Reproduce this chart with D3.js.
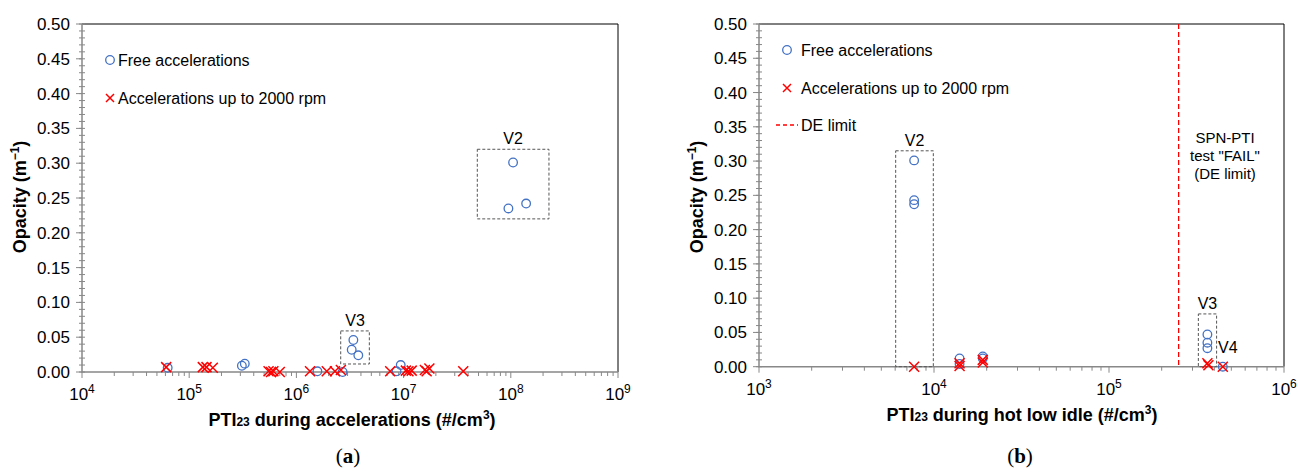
<!doctype html>
<html>
<head>
<meta charset="utf-8">
<title>Opacity vs PTI23</title>
<script src="https://d3js.org/d3.v7.min.js"></script>
<style>
  body { margin: 0; background: #fff; }
  svg text { font-family: "Liberation Sans", Arial, sans-serif; fill: #000; }
  .tick-label { font-size: 17px; }
  .legend-text { font-size: 16px; }
  .axis-title { font-size: 18px; font-weight: bold; }
  .note { font-size: 16px; }
  .caption { font-family: "Liberation Serif", "DejaVu Serif", serif; font-size: 21px; }
</style>
</head>
<body>
<div id="chart"></div>
<script>
// ---- data ----
// panel (a): PTI23 during accelerations
const accFreeX = [6.3e4, 3.1e5, 3.3e5, 1.57e6, 2.7e6, 3.4e6, 3.28e6, 3.78e6, 8.6e6, 9.4e6, 1.05e8, 9.5e7, 1.39e8];
const accFreeY = [0.006, 0.009, 0.012, 0.001, 0.000, 0.046, 0.032, 0.024, 0.001, 0.010, 0.301, 0.235, 0.242];
const accRpmX = [6.1e4, 1.34e5, 1.45e5, 1.66e5, 5.5e5, 5.8e5, 6.1e5, 7.0e5, 1.34e6, 1.92e6, 2.29e6, 2.6e6,
                 7.5e6, 1.05e7, 1.11e7, 1.19e7, 1.58e7, 1.64e7, 1.74e7, 3.6e7];
const accRpmY = [0.007, 0.007, 0.007, 0.006, 0.001, 0.000, 0.001, 0.000, 0.001, 0.001, 0.001, 0.003,
                 0.001, 0.002, 0.001, 0.002, 0.003, 0.001, 0.005, 0.001];
const accBoxes = [
  { label: "V2", x0: 4.87e7, x1: 2.27e8, y0: 0.22, y1: 0.32 },
  { label: "V3", x0: 2.59e6, x1: 4.79e6, y0: 0.0115, y1: 0.059 }
];

// panel (b): PTI23 during hot low idle
const idleFreeX = [7700, 7700, 7700, 1.4e4, 1.4e4, 1.9e4, 1.9e4, 3.65e5, 3.65e5, 3.65e5, 4.47e5];
const idleFreeY = [0.301, 0.243, 0.237, 0.012, 0.004, 0.015, 0.012, 0.047, 0.035, 0.027, 0.000];
const idleRpmX = [7700, 1.4e4, 1.4e4, 1.9e4, 1.9e4, 3.65e5, 3.7e5, 4.47e5];
const idleRpmY = [0.000, 0.005, 0.001, 0.010, 0.006, 0.005, 0.002, 0.000];
const idleBoxes = [
  { label: "V2", x0: 6040, x1: 9910, y0: 0, y1: 0.315 },
  { label: "V3", x0: 3.24e5, x1: 4.12e5, y0: 0, y1: 0.077 }
];
const deLimit = 2.5e5;

const yTicks = [0, 0.05, 0.10, 0.15, 0.20, 0.25, 0.30, 0.35, 0.40, 0.45, 0.50];
const legendNames = ["Free accelerations", "Accelerations up to 2000 rpm", "DE limit"];

const W = 1298, H = 475;
const blue = "#4472C4", red = "#FF0000";

const svg = d3.select("#chart").append("svg")
  .attr("width", W).attr("height", H);

function drawPanel(p) {
  const x = d3.scaleLog().domain(p.xDomain).range([p.left, p.right]);
  const y = d3.scaleLinear().domain([0, 0.5]).range([p.bottom, p.top]);
  const g = svg.append("g");

  // frame: top and right black
  g.append("path")
    .attr("d", `M${p.left},${p.top}H${p.right}V${p.bottom}`)
    .attr("fill", "none").attr("stroke", "#000").attr("stroke-width", 1);

  // minor y ticks every 0.01
  const yMinor = d3.range(0, 0.5001, 0.01);
  g.selectAll(".ym").data(yMinor).enter().append("line")
    .attr("x1", p.left - 3).attr("x2", p.left + 3)
    .attr("y1", d => y(d)).attr("y2", d => y(d))
    .attr("stroke", "#888").attr("stroke-width", 1);
  g.selectAll(".yM").data(yTicks).enter().append("line")
    .attr("x1", p.left - 6).attr("x2", p.left)
    .attr("y1", d => y(d)).attr("y2", d => y(d))
    .attr("stroke", "#888").attr("stroke-width", 1);
  g.selectAll(".yl").data(yTicks).enter().append("text")
    .attr("class", "tick-label")
    .attr("x", p.left - 12).attr("y", d => y(d) + 6)
    .attr("text-anchor", "end")
    .text(d => d3.format(".2f")(d));

  // x ticks
  const e0 = Math.round(Math.log10(p.xDomain[0])), e1 = Math.round(Math.log10(p.xDomain[1]));
  const majors = d3.range(e0, e1 + 1);
  const minors = [];
  majors.slice(0, -1).forEach(e => { for (let k = 2; k <= 9; k++) minors.push(k * Math.pow(10, e)); });
  g.selectAll(".xm").data(minors).enter().append("line")
    .attr("x1", d => x(d)).attr("x2", d => x(d))
    .attr("y1", p.bottom).attr("y2", p.bottom + 4)
    .attr("stroke", "#888").attr("stroke-width", 1);
  g.selectAll(".xM").data(majors).enter().append("line")
    .attr("x1", d => x(Math.pow(10, d))).attr("x2", d => x(Math.pow(10, d)))
    .attr("y1", p.bottom).attr("y2", p.bottom + 6)
    .attr("stroke", "#888").attr("stroke-width", 1);
  const xl = g.selectAll(".xl").data(majors).enter().append("text")
    .attr("class", "tick-label")
    .attr("x", d => x(Math.pow(10, d))).attr("y", p.bottom + 28)
    .attr("text-anchor", "middle");
  xl.append("tspan").text("10");
  xl.append("tspan").attr("dy", -7).style("font-size", "12px").text(d => d);

  // axes lines (gray)
  g.append("path")
    .attr("d", `M${p.left},${p.top}V${p.bottom}H${p.right}`)
    .attr("fill", "none").attr("stroke", "#888").attr("stroke-width", 1.5);

  // DE limit
  if (p.limit) {
    g.append("line")
      .attr("x1", x(p.limit)).attr("x2", x(p.limit))
      .attr("y1", y(0.5)).attr("y2", p.bottom)
      .attr("stroke", red).attr("stroke-width", 1.3).attr("stroke-dasharray", "5,3");
    const nt = g.append("text").attr("class", "note").attr("text-anchor", "middle")
      .style("font-size", "15px");
    ["SPN-PTI", "test \"FAIL\"", "(DE limit)"].forEach((s, i) => {
      nt.append("tspan").attr("x", 1225).attr("y", 143 + i * 18).text(s);
    });
  }

  // dashed boxes
  p.boxes.forEach(b => {
    g.append("rect")
      .attr("x", x(b.x0)).attr("y", y(b.y1))
      .attr("width", x(b.x1) - x(b.x0)).attr("height", y(b.y0) - y(b.y1))
      .attr("fill", "none").attr("stroke", "#555").attr("stroke-width", 1)
      .attr("stroke-dasharray", "3,2");
    g.append("text").attr("class", "note").attr("text-anchor", "middle")
      .attr("x", (x(b.x0) + x(b.x1)) / 2).attr("y", y(b.y1) - 5)
      .text(b.label);
  });
  if (p.extraLabel) {
    g.append("text").attr("class", "note")
      .attr("x", p.extraLabel.x).attr("y", p.extraLabel.y).text(p.extraLabel.t);
  }

  // circles
  g.selectAll(".free").data(p.freeX).enter().append("circle")
    .attr("cx", d => x(d)).attr("cy", (d, i) => y(p.freeY[i]))
    .attr("r", 4.3).attr("fill", "none").attr("stroke", blue).attr("stroke-width", 1.3);

  // crosses
  const s = 5;
  g.selectAll(".rpm").data(p.rpmX).enter().append("path")
    .attr("d", (d, i) => {
      const cx = x(d), cy = y(p.rpmY[i]);
      return `M${cx - s},${cy - s}L${cx + s},${cy + s}M${cx - s},${cy + s}L${cx + s},${cy - s}`;
    })
    .attr("stroke", red).attr("stroke-width", 1.5).attr("fill", "none");

  // legend
  const lg = p.legend;
  g.append("circle").attr("cx", lg.x).attr("cy", lg.y0)
    .attr("r", 4.3).attr("fill", "none").attr("stroke", blue).attr("stroke-width", 1.3);
  g.append("path")
    .attr("d", `M${lg.x - 4},${lg.y1 - 4}L${lg.x + 4},${lg.y1 + 4}M${lg.x - 4},${lg.y1 + 4}L${lg.x + 4},${lg.y1 - 4}`)
    .attr("stroke", red).attr("stroke-width", 1.5);
  g.append("text").attr("class", "legend-text").attr("x", lg.tx).attr("y", lg.y0 + 5.5).text(legendNames[0]);
  g.append("text").attr("class", "legend-text").attr("x", lg.tx).attr("y", lg.y1 + 5.5).text(legendNames[1]);
  if (lg.y2) {
    g.append("line").attr("x1", lg.x - 11).attr("x2", lg.tx - 3)
      .attr("y1", lg.y2).attr("y2", lg.y2)
      .attr("stroke", red).attr("stroke-width", 1.3).attr("stroke-dasharray", "4,3");
    g.append("text").attr("class", "legend-text").attr("x", lg.tx).attr("y", lg.y2 + 5.5).text(legendNames[2]);
  }

  // axis titles
  const xt = g.append("text").attr("class", "axis-title").attr("text-anchor", "middle")
    .attr("x", p.xTitleX).attr("y", p.bottom + 54);
  xt.append("tspan").text("PTI");
  xt.append("tspan").style("font-size", "12px").text("23");
  xt.append("tspan").text(" " + p.xTitle + " (#/cm");
  xt.append("tspan").attr("dy", -7).style("font-size", "12px").text("3");
  xt.append("tspan").attr("dy", 7).text(")");

  const yt = g.append("text").attr("class", "axis-title").attr("text-anchor", "middle")
    .attr("transform", `translate(${p.yTitleX},${197}) rotate(-90)`);
  yt.append("tspan").text("Opacity (m");
  yt.append("tspan").attr("dy", -7).style("font-size", "12px").text("\u22121");
  yt.append("tspan").attr("dy", 7).text(")");

  const cap = g.append("text").attr("class", "caption").attr("text-anchor", "middle")
    .attr("x", p.capX).attr("y", 463);
  cap.append("tspan").text("(");
  cap.append("tspan").style("font-weight", "bold").text(p.cap);
  cap.append("tspan").text(")");
}

drawPanel({
  xDomain: [1e4, 1e9], left: 82, right: 618, top: 24, bottom: 372,
  freeX: accFreeX, freeY: accFreeY, rpmX: accRpmX, rpmY: accRpmY, boxes: accBoxes,
  legend: { x: 110, tx: 118, y0: 60, y1: 98 },
  xTitle: "during accelerations", xTitleX: 352, yTitleX: 26, capX: 348, cap: "a"
});

drawPanel({
  xDomain: [1e3, 1e6], left: 759, right: 1284, top: 24, bottom: 366.7,
  freeX: idleFreeX, freeY: idleFreeY, rpmX: idleRpmX, rpmY: idleRpmY, boxes: idleBoxes,
  limit: deLimit, extraLabel: { x: 1218, y: 353, t: "V4" },
  legend: { x: 787, tx: 801, y0: 50, y1: 88, y2: 125 },
  xTitle: "during hot low idle", xTitleX: 1022, yTitleX: 703, capX: 1020, cap: "b"
});
</script>
</body>
</html>
